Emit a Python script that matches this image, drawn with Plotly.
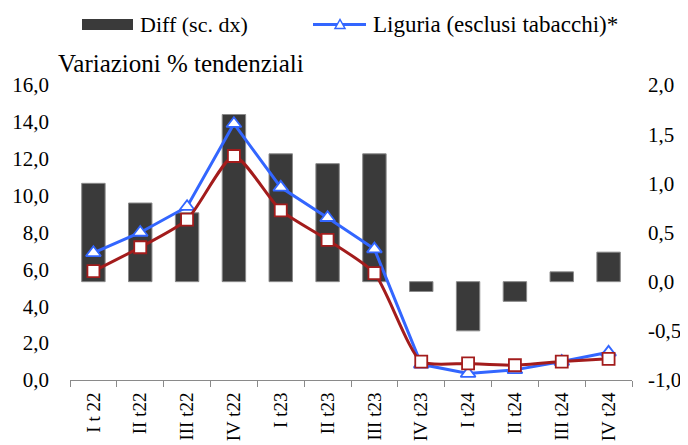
import plotly.graph_objects as go

# ---------------- data ----------------
categories = ["I t 22", "II t22", "III t22", "IV t22", "I t23", "II t23",
              "III t23", "IV t23", "I t24", "II t24", "III t24", "IV t24"]
diff_values = [1.0, 0.8, 0.7, 1.7, 1.3, 1.2, 1.3, -0.1, -0.5, -0.2, 0.1, 0.3]
liguria_values = [6.9, 8.0, 9.4, 13.9, 10.45, 8.8, 7.1, 0.85, 0.35, 0.55, 1.0, 1.5]
other_values = [5.9, 7.2, 8.7, 12.15, 9.2, 7.6, 5.8, 1.0, 0.9, 0.8, 1.0, 1.15]
left_ticks = [0, 2, 4, 6, 8, 10, 12, 14, 16]
right_ticks = [-1.0, -0.5, 0.0, 0.5, 1.0, 1.5, 2.0]
diff_name = "Diff (sc. dx)"
liguria_name = "Liguria (esclusi tabacchi)*"
other_name = "Italia"
subtitle = "Variazioni % tendenziali"


def fmt(v):
    return "{:.1f}".format(v).replace(".", ",")


left_labels = [fmt(v) for v in left_ticks]
right_labels = [fmt(v) for v in right_ticks]

# ---------------- style ----------------
FONT = "Liberation Serif"
BAR_COLOR = "#3A3A3A"
BAR_EDGE = "#8A8A8A"
BLUE = "#3366FF"
RED = "#A31C1C"
OFF = 8                      # page body margin of the browser
W, H = 688 - OFF, 445 - OFF  # figure size so that it ends at the window edge
L, R, T, B = 70 - OFF, 56, 85 - OFF, 65
PW, PH = W - L - R, H - T - B


def px2x(px):
    """page pixel x -> paper x"""
    return (px - OFF - L) / PW


def py2y(py):
    """page pixel y -> paper y"""
    return (H - B - (py - OFF)) / PH


fig = go.Figure()

fig.add_trace(go.Bar(
    x=categories, y=diff_values, name=diff_name, yaxis="y",
    marker=dict(color=BAR_COLOR, line=dict(color=BAR_EDGE, width=1)),
    width=0.5, showlegend=False,
))
fig.add_trace(go.Scatter(
    x=categories, y=liguria_values, name=liguria_name, yaxis="y2",
    mode="lines+markers",
    line=dict(color=BLUE, width=3),
    marker=dict(symbol="triangle-up", size=13, color="white",
                line=dict(color=BLUE, width=1.8)),
    showlegend=False,
))
fig.add_trace(go.Scatter(
    x=categories, y=other_values, name=other_name, yaxis="y2",
    mode="lines+markers",
    line=dict(color=RED, width=3, shape="spline", smoothing=0.6),
    marker=dict(symbol="square", size=12, color="white",
                line=dict(color=RED, width=1.8)),
    showlegend=False,
))

# ---------------- manual legend ----------------
shapes = []
shapes.append(dict(type="rect", xref="paper", yref="paper",
                   x0=px2x(82), x1=px2x(133), y0=py2y(30), y1=py2y(19),
                   fillcolor=BAR_COLOR, line=dict(width=0)))
shapes.append(dict(type="line", xref="paper", yref="paper",
                   x0=px2x(313), x1=px2x(366), y0=py2y(24.5), y1=py2y(24.5),
                   line=dict(color=BLUE, width=3)))
tcx, tcy = 340, 24.5
tri = "M {} {} L {} {} L {} {} Z".format(
    px2x(tcx - 5), py2y(tcy + 4), px2x(tcx + 5), py2y(tcy + 4),
    px2x(tcx), py2y(tcy - 5))
shapes.append(dict(type="path", xref="paper", yref="paper", path=tri,
                   fillcolor="white", line=dict(color=BLUE, width=1.5)))

annotations = [
    dict(text=diff_name, x=px2x(138), y=py2y(24.5), xref="paper", yref="paper",
         xanchor="left", yanchor="middle", showarrow=False,
         font=dict(family=FONT, size=22, color="black")),
    dict(text=liguria_name, x=px2x(371), y=py2y(24.5), xref="paper", yref="paper",
         xanchor="left", yanchor="middle", showarrow=False,
         font=dict(family=FONT, size=23, color="black")),
    dict(text=subtitle, x=px2x(56), y=py2y(63), xref="paper", yref="paper",
         xanchor="left", yanchor="middle", showarrow=False,
         font=dict(family=FONT, size=25, color="black")),
]

fig.update_layout(
    width=W, height=H,
    margin=dict(l=L, r=R, t=T, b=B, autoexpand=False),
    paper_bgcolor="white", plot_bgcolor="white",
    showlegend=False,
    bargap=0.5,
    font=dict(family=FONT, size=21, color="black"),
    xaxis=dict(type="category", range=[-0.5, len(categories) - 0.5],
               showline=True, linecolor="#8A8A8A", linewidth=1,
               ticks="outside", tickson="boundaries", ticklen=6, tickcolor="#8A8A8A",
               tickangle=-90, showgrid=False, automargin=False,
               tickfont=dict(family=FONT, size=19), ticklabelstandoff=4),
    yaxis=dict(side="right", range=[-1, 2], tickvals=right_ticks, ticktext=right_labels,
               showgrid=False, zeroline=False, showline=False, ticks="",
               automargin=False, ticklabelstandoff=15,
               tickfont=dict(family=FONT, size=21)),
    yaxis2=dict(side="left", overlaying="y", range=[0, 16], tickvals=left_ticks,
                ticktext=left_labels, showgrid=False, zeroline=False, showline=False,
                ticks="", automargin=False, ticklabelstandoff=20,
                tickfont=dict(family=FONT, size=21)),
    shapes=shapes,
    annotations=annotations,
)

fig.write_html("out.html")
